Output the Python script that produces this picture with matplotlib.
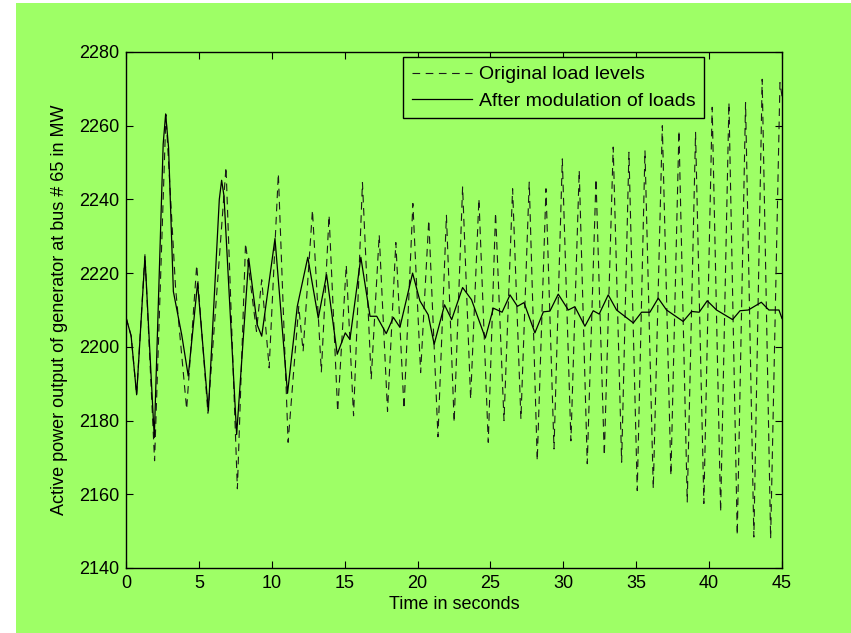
import matplotlib
matplotlib.use("Agg")
import matplotlib.pyplot as plt
from matplotlib.patches import Rectangle

plt.rcParams['font.family'] = ['Liberation Sans', 'DejaVu Sans']
plt.rcParams['lines.scale_dashes'] = False

# After modulation of loads (solid)
t_mod = [0.0, 0.35, 0.73, 1.3, 1.94, 2.55, 2.72, 2.92, 3.25, 3.82, 4.27, 4.91, 5.65, 6.4, 6.56, 6.72,
         7.59, 8.42, 9.0, 9.31, 10.22, 11.08, 11.75, 12.47, 13.19, 13.76, 14.49, 15.04, 15.36, 16.11,
         16.74, 17.2, 17.85, 18.34, 18.79, 19.66, 20.16, 20.73, 21.14, 21.85, 22.34, 23.09, 23.7,
         24.65, 25.2, 25.8, 26.34, 26.85, 27.3, 28.05, 28.63, 29.08, 29.65, 30.34, 30.79, 31.48,
         32.05, 32.46, 33.08, 33.65, 34.8, 35.37, 35.94, 36.51, 37.08, 38.22, 38.8, 39.32, 39.87,
         40.51, 41.61, 42.12, 42.69, 43.58, 44.1, 44.79, 45.0]
p_mod = [2208, 2203, 2187, 2224.5, 2175.4, 2255, 2263.2, 2254, 2215, 2203.3, 2192.1, 2217.3, 2182.6,
         2240, 2245.2, 2241, 2176.2, 2224, 2206, 2202.9, 2229.4, 2187.4, 2211, 2224.3, 2207.8, 2219.6,
         2198, 2203.8, 2202, 2224.3, 2208.3, 2208.3, 2203.6, 2208, 2205.3, 2220, 2212.5, 2208.7,
         2200.7, 2211.4, 2207.4, 2216.1, 2212.8, 2202.4, 2210.5, 2209.4, 2214.1, 2211, 2212, 2203.8,
         2209.5, 2209.7, 2214.3, 2210, 2210.9, 2205.6, 2209.8, 2208.9, 2214.1, 2210, 2206.5, 2209.4,
         2209.4, 2213.2, 2210, 2206.9, 2209.6, 2209.4, 2212.5, 2210, 2207.4, 2209.8, 2210, 2212.1,
         2210, 2210, 2207.7]

# Original load levels (dashed)
t_orig = [0.0, 0.35, 0.73, 1.3, 1.96, 2.74, 3.4, 4.16, 4.85, 5.62, 6.86, 7.64, 8.2, 8.95, 9.31,
          9.82, 10.45, 11.12, 11.85, 12.15, 12.79, 13.4, 13.93, 14.52, 15.11, 15.61, 16.22, 16.82,
          17.37, 17.94, 18.51, 19.07, 19.68, 20.21, 20.77, 21.4, 21.98, 22.51, 23.09, 23.64, 24.21,
          24.85, 25.35, 25.93, 26.52, 27.09, 27.66, 28.21, 28.81, 29.36, 29.93, 30.52, 31.09, 31.64,
          32.24, 32.81, 33.42, 34.0, 34.5, 35.07, 35.6, 36.17, 36.79, 37.38, 37.93, 38.5, 39.07,
          39.64, 40.21, 40.79, 41.36, 41.93, 42.5, 43.07, 43.64, 44.22, 44.86, 45.0]
p_orig = [2208, 2203, 2187, 2225, 2169.1, 2263, 2216, 2183.1, 2222.2, 2182, 2248.8, 2161.5, 2228.1,
          2204.2, 2218.2, 2194.3, 2247, 2174.1, 2211, 2198.8, 2237.1, 2193.2, 2235.7, 2182.4, 2222.2,
          2181.3, 2244.6, 2191.2, 2230.4, 2182.5, 2228.3, 2183.2, 2238.9, 2193.0, 2234.4, 2175.6,
          2235.7, 2179.5, 2243.4, 2185.8, 2240.2, 2174.1, 2236.4, 2180, 2242.9, 2180.4, 2244.7,
          2169.1, 2242.9, 2172.3, 2251, 2174.5, 2247.9, 2168.3, 2245.6, 2170.5, 2254.2, 2168.7,
          2252.8, 2161, 2253.3, 2161.5, 2260, 2165.1, 2258.7, 2157.9, 2258.2, 2157.5, 2265, 2155.2,
          2266.3, 2148.9, 2266.3, 2148.4, 2272.6, 2148, 2271.7, 2268]

x_ticks = [0, 5, 10, 15, 20, 25, 30, 35, 40, 45]
y_ticks = [2140, 2160, 2180, 2200, 2220, 2240, 2260, 2280]

green = '#9EFF66'
W, H = 851, 633
fig = plt.figure(figsize=(W / 100, H / 100), dpi=100, facecolor='white')
fig.patches.append(Rectangle((16 / W, 0), 1 - 16 / W, 1 - 3 / H, transform=fig.transFigure,
                             facecolor=green, edgecolor='none', zorder=-10))

ax = fig.add_axes([126 / W, 1 - 568 / H, (782 - 126) / W, (568 - 52) / H])
ax.set_facecolor(green)

ax.plot(t_orig, p_orig, color='#1a1a1a', lw=0.8, dashes=(5.5, 4), label='Original load levels')
ax.plot(t_mod, p_mod, color='black', lw=0.9, label='After modulation of loads')

ax.set_xlim(0, 45)
ax.set_ylim(2140, 2280)
ax.set_xticks(x_ticks)
ax.set_yticks(y_ticks)
ax.tick_params(direction='in', length=5, width=0.8, top=True, right=True, labelsize=13, pad=5)
for s in ax.spines.values():
    s.set_linewidth(1.0)

ax.set_xlabel('Time in seconds', fontsize=13, labelpad=3)
ax.set_ylabel('Active power output of generator at bus # 65 in MW', fontsize=13, labelpad=8)

leg = ax.legend(loc='upper left', bbox_to_anchor=((403 - 126) / 656, (568 - 57) / 516),
                prop={'size': 14}, frameon=True, fancybox=False, framealpha=1, borderaxespad=0,
                handlelength=3.1, handletextpad=0.35, borderpad=0.45, labelspacing=0.45)
leg.get_frame().set_facecolor(green)
leg.get_frame().set_edgecolor('black')
leg.get_frame().set_linewidth(1.0)

fig.savefig('out.png', dpi=100, facecolor=fig.get_facecolor())
